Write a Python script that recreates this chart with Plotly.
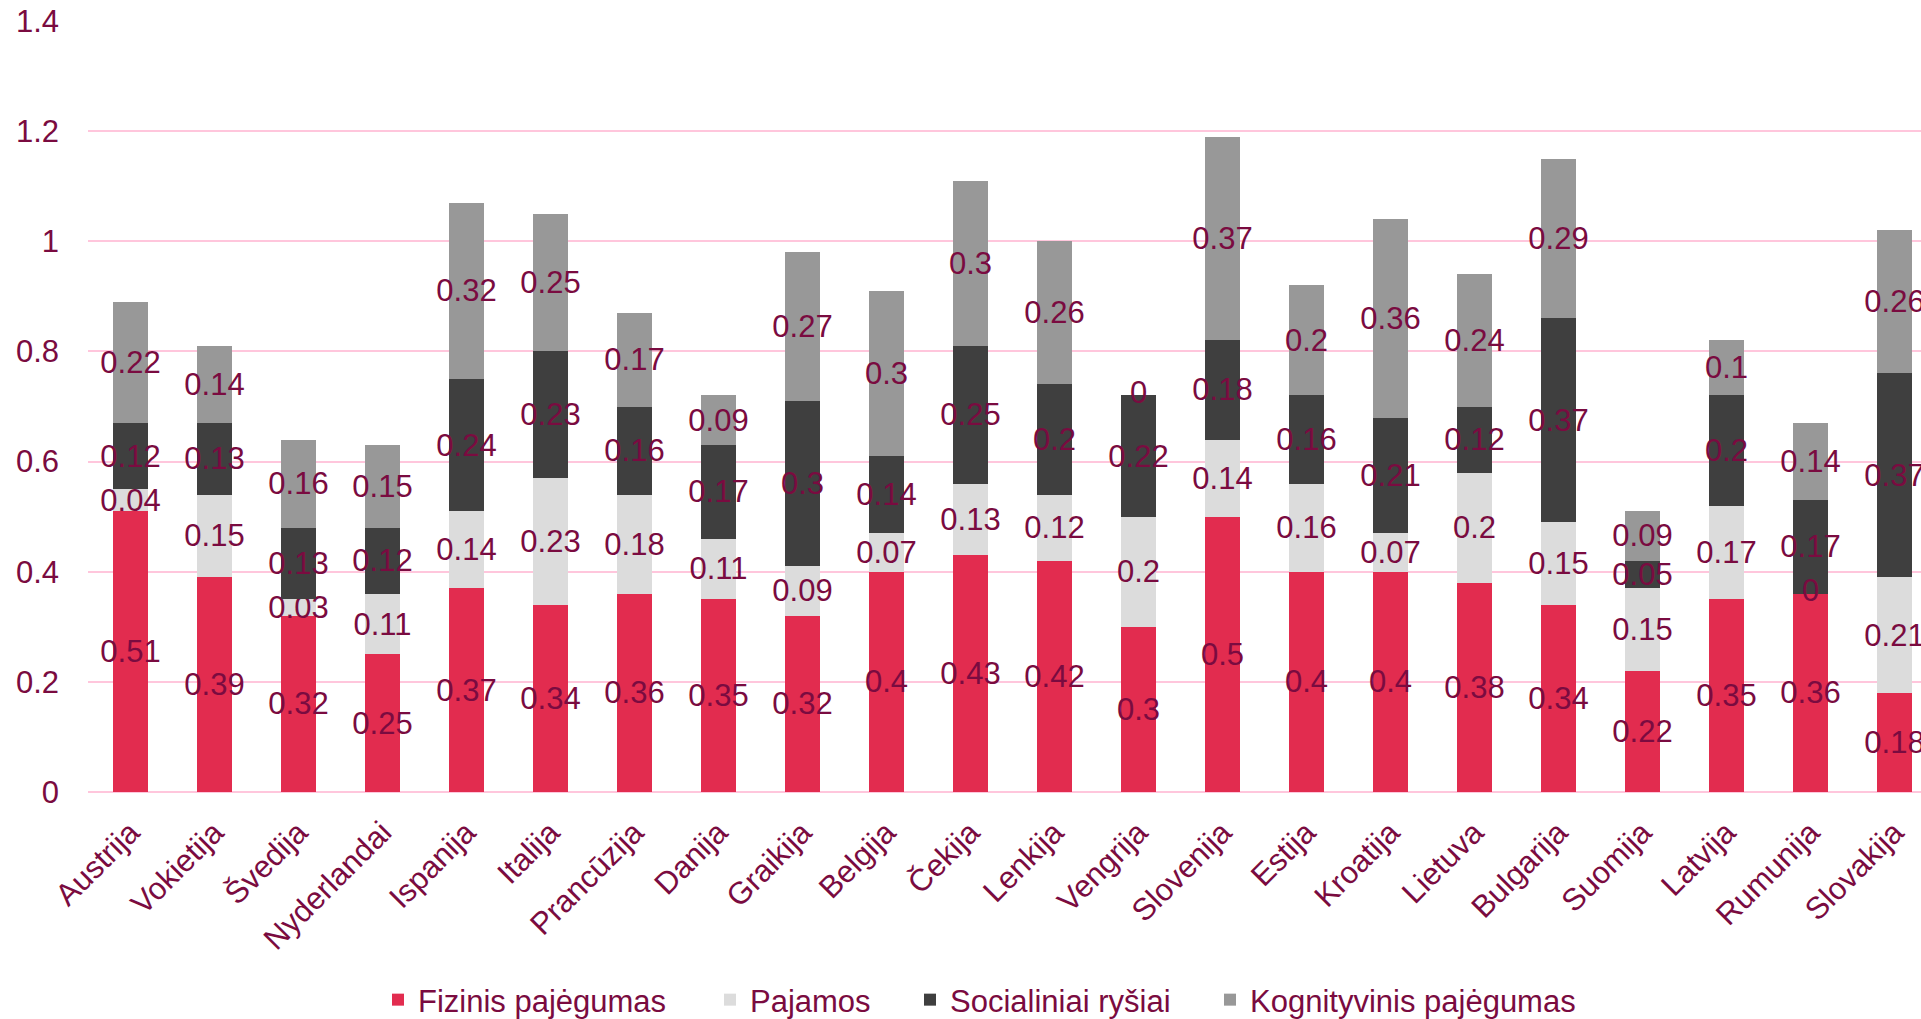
import plotly.graph_objects as go

categories = ["Austrija", "Vokietija", "Švedija", "Nyderlandai", "Ispanija", "Italija",
              "Prancūzija", "Danija", "Graikija", "Belgija", "Čekija", "Lenkija",
              "Vengrija", "Slovenija", "Estija", "Kroatija", "Lietuva", "Bulgarija",
              "Suomija", "Latvija", "Rumunija", "Slovakija"]

fizinis = [0.51, 0.39, 0.32, 0.25, 0.37, 0.34, 0.36, 0.35, 0.32, 0.4, 0.43,
           0.42, 0.3, 0.5, 0.4, 0.4, 0.38, 0.34, 0.22, 0.35, 0.36, 0.18]
pajamos = [0.04, 0.15, 0.03, 0.11, 0.14, 0.23, 0.18, 0.11, 0.09, 0.07, 0.13,
           0.12, 0.2, 0.14, 0.16, 0.07, 0.2, 0.15, 0.15, 0.17, 0, 0.21]
socialiniai = [0.12, 0.13, 0.13, 0.12, 0.24, 0.23, 0.16, 0.17, 0.3, 0.14, 0.25,
               0.2, 0.22, 0.18, 0.16, 0.21, 0.12, 0.37, 0.05, 0.2, 0.17, 0.37]
kognityvinis = [0.22, 0.14, 0.16, 0.15, 0.32, 0.25, 0.17, 0.09, 0.27, 0.3, 0.3,
                0.26, 0, 0.37, 0.2, 0.36, 0.24, 0.29, 0.09, 0.1, 0.14, 0.26]

series_names = ["Fizinis pajėgumas", "Pajamos", "Socialiniai ryšiai", "Kognityvinis pajėgumas"]
series_values = [fizinis, pajamos, socialiniai, kognityvinis]
series_colors = ["#E22C4F", "#DCDCDC", "#3F3F3F", "#989898"]

TEXT = "#7A0B40"
FONT = "Liberation Sans, Arial, sans-serif"
FS = 31

W, H = 1921, 1019
ml, mt, mb = 88, 21, 227
plot_w = W - ml
plot_h = H - mt - mb
span = plot_w / 84.0
x0 = -0.5 - 0.5 / 84.0

legend_names = ["legend", "legend2", "legend3", "legend4"]
legend_left_px = [378, 710, 910, 1210]
legend_center_px = 1000

fig = go.Figure()
zero_x, zero_y = [], []
base = [0.0] * len(categories)
for name, vals, col, lg in zip(series_names, series_values, series_colors, legend_names):
    fig.add_trace(go.Bar(
        x=categories, y=vals, name=name,
        marker=dict(color=col, line=dict(width=0)),
        width=0.417,
        text=[str(v) for v in vals],
        textposition="inside", insidetextanchor="middle",
        textangle=0, constraintext="none",
        textfont=dict(color=TEXT, size=FS, family=FONT),
        insidetextfont=dict(color=TEXT, size=FS, family=FONT),
        cliponaxis=False,
        legend=lg,
    ))
    for i, v in enumerate(vals):
        if v == 0:
            zero_x.append(categories[i])
            zero_y.append(base[i])
        base[i] += v

# labels for zero-height segments (Plotly does not draw text on empty bars)
fig.add_trace(go.Scatter(
    x=zero_x, y=zero_y, mode="text", text=["0"] * len(zero_x),
    textposition="middle center",
    textfont=dict(color=TEXT, size=FS, family=FONT),
    showlegend=False, hoverinfo="skip", cliponaxis=False,
))

layout_legends = {}
for lg, left in zip(legend_names, legend_left_px):
    layout_legends[lg] = dict(
        orientation="h", x=(left - ml) / plot_w, xanchor="left",
        y=(mt + plot_h - legend_center_px) / plot_h, yanchor="middle",
        font=dict(size=FS, color=TEXT, family=FONT),
        traceorder="normal", bgcolor="rgba(0,0,0,0)", borderwidth=0,
    )

fig.update_layout(
    width=W, height=H,
    margin=dict(l=ml, r=0, t=mt, b=mb, pad=0, autoexpand=False),
    barmode="stack",
    paper_bgcolor="white", plot_bgcolor="white",
    font=dict(family=FONT, size=FS, color=TEXT),
    showlegend=True,
    xaxis=dict(range=[x0, x0 + span], tickangle=-45, showgrid=False,
               showline=False, ticks="", ticklabelstandoff=15, automargin=False,
               tickfont=dict(size=FS, color=TEXT, family=FONT)),
    yaxis=dict(range=[0, 1.4], dtick=0.2, showgrid=True, gridcolor="#FFC6DC", gridwidth=2,
               zeroline=True, zerolinecolor="#FFC6DC", zerolinewidth=2, showline=False,
               ticks="", ticklabelstandoff=28, automargin=False,
               tickfont=dict(size=FS, color=TEXT, family=FONT)),
    **layout_legends,
)

fig.write_html("out.html")
